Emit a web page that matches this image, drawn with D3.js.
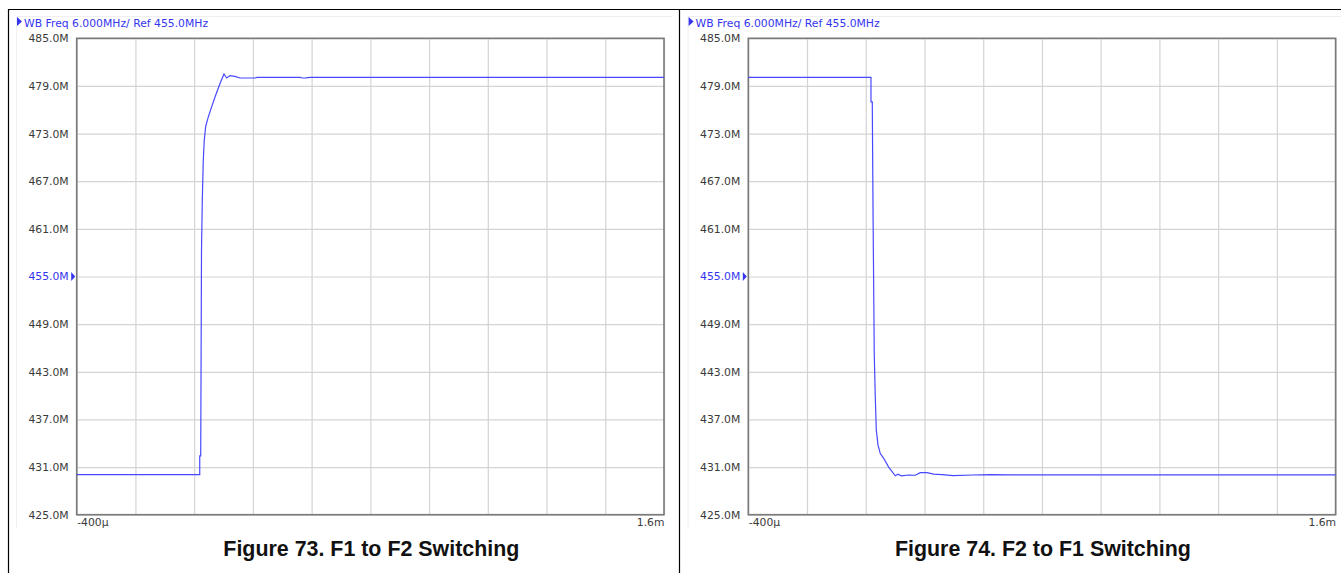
<!DOCTYPE html>
<html>
<head>
<meta charset="utf-8">
<script src="https://cdn.jsdelivr.net/npm/d3@7"></script>
<style>
  html, body { margin: 0; padding: 0; background: #fff; }
  svg { display: block; }
</style>
</head>
<body>
<svg id="chart" width="1341" height="573"></svg>
<script>
// ---------- data ----------
const headerText = "WB Freq 6.000MHz/ Ref 455.0MHz";
const captions = ["Figure 73. F1 to F2 Switching", "Figure 74. F2 to F1 Switching"];
const xDomain = [-400, 1600];          // µs
const xGridValues = [-400, -200, 0, 200, 400, 600, 800, 1000, 1200, 1400, 1600];
const xTickLabels = ["-400µ", "1.6m"];
const yDomain = [425, 485];            // MHz
const yTickValues = [485, 479, 473, 467, 461, 455, 449, 443, 437, 431, 425];
const refValue = 455;

// Panel 1: F1 -> F2 (time µs, frequency MHz)
const f1f2Time = [-400, 19, 19, 22.3, 25, 27.7, 31.1, 34.5, 39.3, 48.2, 59.8, 71, 88, 101.6, 110.8, 122, 139, 156, 207, 214, 361, 368, 380, 395, 1600];
const f1f2Freq = [430.05, 430.05, 432.4, 432.4, 458.3, 464.6, 469.7, 472.2, 473.9, 475.1, 476.4, 477.6, 479.3, 480.5, 480.0, 480.3, 480.2, 480.0, 480.0, 480.08, 480.08, 480.0, 480.02, 480.08, 480.08];

// Panel 2: F2 -> F1
const f2f1Time = [-400, 17.8, 17.8, 22.2, 25, 29, 32.4, 35.8, 41.6, 49.5, 61, 78, 100.5, 109.7, 121, 146.1, 168.6, 185.6, 208.4, 231.3, 259.6, 297, 365, 423, 491, 1600];
const f2f1Freq = [480.09, 480.09, 477.0, 477.0, 462, 445.1, 439.9, 435.7, 433.8, 432.7, 432.1, 431.0, 429.9, 430.1, 429.9, 430.0, 429.97, 430.3, 430.3, 430.1, 430.04, 429.92, 430.0, 430.04, 430.02, 430.02];

// ---------- layout ----------
const svg = d3.select("#chart");
const panelOffsets = [0, 671.6];
const plot = { left: 76.7, right: 664, top: 38.3, bottom: 514.7 };
const traceColor = "#4848ff";
const blue = "#3535f0";
const labelColor = "#3a3a3a";

// outer table frame
svg.append("line").attr("x1", 8).attr("x2", 1341).attr("y1", 9.5).attr("y2", 9.5)
  .attr("stroke", "#000").attr("stroke-width", 1.2);
[8.5, 679.5].forEach(x => {
  svg.append("line").attr("x1", x).attr("x2", x).attr("y1", 9).attr("y2", 573)
    .attr("stroke", "#000").attr("stroke-width", 1.2);
});

function drawPanel(offset, times, freqs, caption) {
  const g = svg.append("g").attr("transform", `translate(${offset},0)`);
  const x = d3.scaleLinear().domain(xDomain).range([plot.left, plot.right]);
  const y = d3.scaleLinear().domain(yDomain).range([plot.bottom, plot.top]);
  const w = plot.right - plot.left, h = plot.bottom - plot.top;

  // faint image box
  g.append("path").attr("d", `M16.5,528 V16.5 H672`)
    .attr("fill", "none").attr("stroke", "#efefef").attr("stroke-width", 1);

  // header
  g.append("path").attr("d", "M17,17 L22,21.5 L17,26 Z").attr("fill", blue);
  g.append("text").attr("x", 24).attr("y", 26.5)
    .attr("font-family", "DejaVu Sans").attr("font-size", 10.8)
    .attr("fill", blue).text(headerText);

  // grid via axes
  const gx = g.append("g").attr("transform", `translate(0,${plot.bottom})`)
    .call(d3.axisBottom(x).tickValues(xGridValues).tickSize(-h).tickFormat(""));
  gx.select(".domain").remove();
  gx.selectAll("line").attr("stroke", "#d4d4d4").attr("stroke-width", 1.2);

  const gy = g.append("g").attr("transform", `translate(${plot.left},0)`)
    .call(d3.axisLeft(y).tickValues(yTickValues).tickSize(-w).tickPadding(8)
      .tickFormat(d => d.toFixed(1) + "M"));
  gy.select(".domain").remove();
  gy.selectAll("line").attr("stroke", "#d4d4d4").attr("stroke-width", 1.2);
  gy.selectAll("text")
    .attr("font-family", "DejaVu Sans").attr("font-size", 10.8)
    .attr("fill", d => d === refValue ? blue : labelColor);

  // reference marker
  const ry = y(refValue);
  g.append("path").attr("d", `M${plot.left - 5.5},${ry - 4.5} L${plot.left - 1.5},${ry} L${plot.left - 5.5},${ry + 4.5} Z`)
    .attr("fill", blue);

  // x tick labels
  const xl = g.append("g").attr("transform", `translate(0,${plot.bottom})`)
    .call(d3.axisBottom(x).tickValues(xDomain).tickSize(0).tickPadding(4)
      .tickFormat((d, i) => xTickLabels[i]));
  xl.select(".domain").remove();
  xl.selectAll("text")
    .attr("font-family", "DejaVu Sans").attr("font-size", 10.8)
    .attr("fill", labelColor)
    .attr("text-anchor", (d, i) => i === 0 ? "start" : "end");

  // plot frame
  g.append("rect").attr("x", plot.left).attr("y", plot.top).attr("width", w).attr("height", h)
    .attr("fill", "none").attr("stroke", "#7a7a7a").attr("stroke-width", 1.6);

  // trace
  const pts = times.map((t, i) => [t, freqs[i]]);
  g.append("path").datum(pts)
    .attr("d", d3.line().x(d => x(d[0])).y(d => y(d[1])))
    .attr("fill", "none").attr("stroke", traceColor).attr("stroke-width", 1.2);

  // caption
  g.append("text").attr("x", (plot.left + plot.right) / 2 + 1).attr("y", 555.5)
    .attr("text-anchor", "middle")
    .attr("font-family", "Liberation Sans, Arial, sans-serif").attr("font-weight", "bold")
    .attr("font-size", 21.4).attr("fill", "#111").text(caption);
}

drawPanel(panelOffsets[0], f1f2Time, f1f2Freq, captions[0]);
drawPanel(panelOffsets[1], f2f1Time, f2f1Freq, captions[1]);
</script>
</body>
</html>
